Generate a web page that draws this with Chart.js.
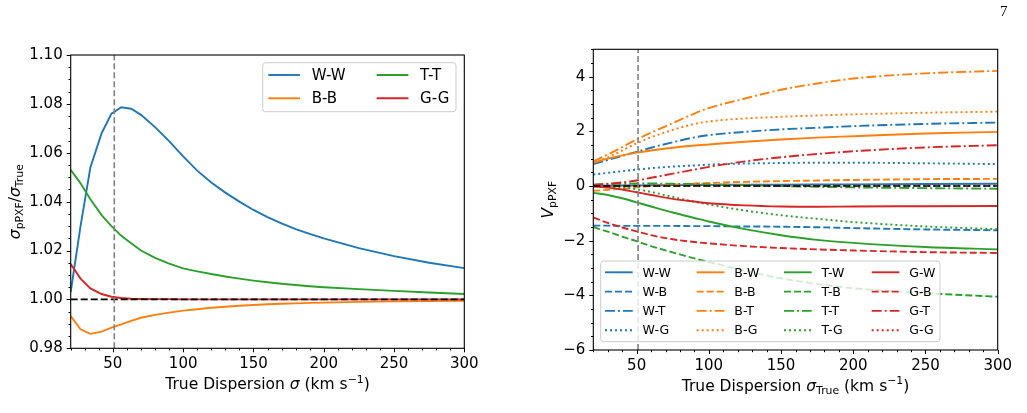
<!DOCTYPE html>
<html>
<head>
<meta charset="utf-8">
<script src="https://cdn.jsdelivr.net/npm/chart.js@4.4.0/dist/chart.umd.min.js"></script>
<style>
  body { margin: 0; background: #fff; width: 1027px; height: 413px; overflow: hidden; position: relative; }
  #left { position: absolute; left: 0; top: 0; }
  #right { position: absolute; left: 513px; top: 0; }
  #page { position: absolute; left: 1000px; top: 3px; font: 15px "Liberation Serif", serif; color: #000; }
</style>
</head>
<body>
<canvas id="left" width="500" height="413"></canvas>
<canvas id="right" width="514" height="413"></canvas>
<div id="page">7</div>
<script>
// ---- left panel: sigma_pPXF / sigma_True ----
const sigmaLeft = [20, 27, 34, 42, 49, 56, 63, 70, 80, 90, 100, 110, 120, 130, 140, 150, 160, 170, 180, 190, 200, 225, 250, 275, 300];
const ratioWW = [1.003, 1.030, 1.054, 1.068, 1.076, 1.0786, 1.078, 1.0755, 1.0705, 1.0648, 1.0585, 1.0527, 1.0478, 1.0437, 1.040, 1.0366, 1.0337, 1.0311, 1.0288, 1.0268, 1.025, 1.021, 1.0177, 1.015, 1.0128];
const ratioBB = [0.9932, 0.9878, 0.9859, 0.9868, 0.9885, 0.9898, 0.9912, 0.9925, 0.9937, 0.9946, 0.9954, 0.996, 0.9966, 0.997, 0.9974, 0.9977, 0.998, 0.9982, 0.9984, 0.9986, 0.9987, 0.999, 0.9992, 0.9993, 0.9994];
const ratioTT = [1.053, 1.0475, 1.041, 1.0345, 1.030, 1.026, 1.023, 1.020, 1.017, 1.0146, 1.0127, 1.0115, 1.0104, 1.0094, 1.0085, 1.0077, 1.007, 1.0064, 1.0059, 1.0054, 1.005, 1.0042, 1.0035, 1.0028, 1.0022];
const ratioGG = [1.0145, 1.0085, 1.0045, 1.0022, 1.0011, 1.0006, 1.0003, 1.0002, 1.0001, 1.0001, 1.0, 1.0, 1.0, 1.0, 1.0, 1.0, 1.0, 1.0, 1.0, 1.0, 1.0, 1.0, 1.0, 1.0, 1.0];

// ---- right panel: V_pPXF ----
const sigmaRight = [20, 30, 40, 50, 60, 75, 90, 100, 125, 150, 175, 200, 250, 300];
const vWW = [0.0, 0.01, 0.015, 0.02, 0.025, 0.03, 0.035, 0.04, 0.045, 0.05, 0.055, 0.06, 0.07, 0.08];
const vWB = [-1.45, -1.45, -1.46, -1.46, -1.46, -1.46, -1.47, -1.47, -1.48, -1.49, -1.51, -1.54, -1.59, -1.62];
const vWT = [0.8, 0.95, 1.1, 1.25, 1.4, 1.6, 1.78, 1.86, 1.98, 2.07, 2.13, 2.19, 2.27, 2.32];
const vWG = [0.42, 0.48, 0.54, 0.6, 0.65, 0.71, 0.75, 0.78, 0.82, 0.84, 0.85, 0.85, 0.83, 0.8];
const vBW = [0.85, 1.0, 1.12, 1.22, 1.3, 1.4, 1.48, 1.52, 1.62, 1.7, 1.77, 1.82, 1.92, 1.98];
const vBB = [-0.18, -0.14, -0.1, -0.05, 0.0, 0.05, 0.09, 0.11, 0.15, 0.18, 0.2, 0.22, 0.25, 0.26];
const vBT = [0.9, 1.15, 1.42, 1.7, 1.95, 2.3, 2.65, 2.85, 3.2, 3.52, 3.75, 3.93, 4.12, 4.21];
const vBG = [0.85, 1.05, 1.3, 1.56, 1.78, 2.05, 2.27, 2.36, 2.47, 2.53, 2.58, 2.62, 2.68, 2.72];
const vTW = [-0.25, -0.33, -0.45, -0.6, -0.75, -0.97, -1.17, -1.3, -1.58, -1.8, -1.97, -2.08, -2.23, -2.32];
const vTB = [-1.5, -1.67, -1.85, -2.02, -2.2, -2.43, -2.65, -2.78, -3.1, -3.38, -3.58, -3.74, -3.92, -4.05];
const vTT = [0.05, 0.07, 0.08, 0.09, 0.09, 0.08, 0.07, 0.06, 0.03, 0.0, -0.03, -0.05, -0.08, -0.1];
const vTG = [0.0, -0.02, -0.06, -0.12, -0.22, -0.4, -0.58, -0.68, -0.9, -1.07, -1.2, -1.32, -1.48, -1.58];
const vGW = [-0.02, -0.06, -0.13, -0.23, -0.33, -0.47, -0.57, -0.63, -0.71, -0.75, -0.76, -0.75, -0.74, -0.73];
const vGB = [-1.15, -1.35, -1.52, -1.66, -1.8, -1.95, -2.05, -2.1, -2.2, -2.27, -2.32, -2.36, -2.42, -2.45];
const vGT = [0.04, 0.08, 0.13, 0.2, 0.3, 0.45, 0.6, 0.7, 0.9, 1.05, 1.17, 1.27, 1.41, 1.49];
const vGG = [0.01, 0.01, 0.01, 0.01, 0.01, 0.01, 0.01, 0.01, 0.01, 0.01, 0.01, 0.01, 0.01, 0.01];

const sigmaMark = 51;      // vertical grey line
const ratioRef = 1.0;      // left reference level
const vRef = 0.0;          // right reference level

const FONT = '"DejaVu Sans", sans-serif';
const COL = { W: '#1f77b4', B: '#ff7f0e', T: '#2ca02c', G: '#d62728' };
const DASH = { W: [], B: [7, 3], T: [10, 3, 2, 3], G: [2, 3] };
const LW = 1.9;
const TICK_SIZE = 15;
const TITLE_SIZE = 15.5;

// mathtext-like label: segments with italic / sub / sup
function drawRich(ctx, segs, size, x, y) {
  const parts = segs.map(s => {
    const fs = (s.sub || s.sup) ? size * 0.7 : size;
    const font = (s.it ? 'italic ' : '') + fs + 'px ' + FONT;
    ctx.font = font;
    return { t: s.t, font, w: ctx.measureText(s.t).width, dy: s.sub ? size * 0.22 : s.sup ? -size * 0.42 : 0 };
  });
  const total = parts.reduce((a, p) => a + p.w, 0);
  let cx = x - total / 2;
  ctx.textAlign = 'left';
  ctx.textBaseline = 'alphabetic';
  ctx.fillStyle = '#000';
  parts.forEach(p => { ctx.font = p.font; ctx.fillText(p.t, cx, y + p.dy); cx += p.w; });
}

// spines, major/minor ticks, axis titles and inside legend
function makeDecor(cfg) {
  return {
    id: 'decor',
    afterDraw(chart) {
      const { ctx, chartArea: a } = chart;
      ctx.save();
      // legend
      const lg = cfg.legend;
      const fx = a.left + lg.x, fy = a.top + lg.y;
      ctx.beginPath();
      ctx.roundRect(fx, fy, lg.w, lg.h, 3);
      ctx.fillStyle = 'rgba(255,255,255,0.8)';
      ctx.fill();
      ctx.strokeStyle = '#cccccc';
      ctx.lineWidth = 1;
      ctx.stroke();
      const items = chart.data.datasets.filter(d => d.label);
      items.forEach((ds, i) => {
        const col = Math.floor(i / lg.rows), row = i % lg.rows;
        const x = fx + lg.colX[col], y = fy + lg.row0 + row * lg.rowH;
        ctx.beginPath();
        ctx.setLineDash(ds.borderDash || []);
        ctx.strokeStyle = ds.borderColor;
        ctx.lineWidth = ds.borderWidth;
        ctx.moveTo(x, y);
        ctx.lineTo(x + lg.handle, y);
        ctx.stroke();
        ctx.setLineDash([]);
        ctx.fillStyle = '#000';
        ctx.font = lg.size + 'px ' + FONT;
        ctx.textAlign = 'left';
        ctx.textBaseline = 'middle';
        ctx.fillText(ds.label, x + lg.textDx, y + 1);
      });
      // spines
      ctx.strokeStyle = '#000';
      ctx.lineWidth = 1.1;
      ctx.strokeRect(a.left, a.top, a.right - a.left, a.bottom - a.top);
      // ticks
      const xs = chart.scales.x, ys = chart.scales.y;
      ctx.lineWidth = 1;
      ctx.beginPath();
      xs.ticks.forEach(t => {
        const px = Math.round(xs.getPixelForValue(t.value)) + 0.5;
        const len = t.label !== '' ? 4 : 2.2;
        ctx.moveTo(px, a.bottom);
        ctx.lineTo(px, a.bottom + len);
      });
      ys.ticks.forEach(t => {
        const py = Math.round(ys.getPixelForValue(t.value)) + 0.5;
        const len = t.label !== '' ? 4 : 2.2;
        ctx.moveTo(a.left, py);
        ctx.lineTo(a.left - len, py);
      });
      ctx.stroke();
      // axis titles
      drawRich(ctx, cfg.xTitle, TITLE_SIZE, (a.left + a.right) / 2, a.bottom + 41);
      ctx.translate(cfg.yTitleX, (a.top + a.bottom) / 2);
      ctx.rotate(-Math.PI / 2);
      drawRich(ctx, cfg.yTitle, TITLE_SIZE, 0, 0);
      ctx.restore();
    }
  };
}

function series(xs, ys, label, color, dash, order, smooth) {
  const ds = {
    label, data: xs.map((x, i) => ({ x, y: ys[i] })),
    borderColor: color, borderWidth: LW, borderDash: dash,
    pointRadius: 0, fill: false, order, tension: 0
  };
  if (smooth) ds.cubicInterpolationMode = 'monotone';
  return ds;
}

function refLines(xMin, xMax, yMin, yMax, level) {
  return [
    { label: '', data: [{ x: xMin, y: level }, { x: xMax, y: level }], borderColor: '#000', borderWidth: 1.6,
      borderDash: [7, 3], pointRadius: 0, order: 0 },
    { label: '', data: [{ x: sigmaMark, y: yMin }, { x: sigmaMark, y: yMax }], borderColor: '#808080', borderWidth: 1.6,
      borderDash: [6, 3], pointRadius: 0, order: -1 }
  ];
}

function makeOptions(pad, yW, xH, yMin, yMax, yStep, yLabel) {
  const tickFont = { family: FONT, size: TICK_SIZE };
  return {
    responsive: false, animation: false, devicePixelRatio: 1,
    layout: { padding: pad },
    plugins: { legend: { display: false }, tooltip: { enabled: false } },
    scales: {
      x: {
        type: 'linear', min: 20, max: 300,
        grid: { drawOnChartArea: false, tickLength: 4, tickColor: 'transparent' },
        border: { display: false },
        ticks: { stepSize: 10, autoSkip: false, maxRotation: 0, color: '#000', font: tickFont, padding: 3,
                 callback: v => (v % 50 === 0 ? String(v) : '') },
        afterFit: s => { s.height = xH; }
      },
      y: {
        type: 'linear', min: yMin, max: yMax,
        grid: { drawOnChartArea: false, tickLength: 4, tickColor: 'transparent' },
        border: { display: false },
        ticks: { stepSize: yStep, autoSkip: false, color: '#000', font: tickFont, padding: 4, callback: yLabel },
        afterFit: s => { s.width = yW; }
      }
    }
  };
}

// left chart
const leftSets = [
  ['W-W', ratioWW, 'W'], ['B-B', ratioBB, 'B'], ['T-T', ratioTT, 'T'], ['G-G', ratioGG, 'G']
].map((s, i, arr) => series(sigmaLeft, s[1], s[0], COL[s[2]], [], arr.length - i + 1, false));

new Chart(document.getElementById('left'), {
  type: 'line',
  data: { datasets: leftSets.concat(refLines(20, 300, 0.98, 1.10, ratioRef)) },
  options: makeOptions({ left: 0, top: 55, right: 35.7, bottom: 0 }, 70.7, 64.7, 0.98, 1.10, 0.005, v => {
    const k = Math.round(v * 1000);
    return k % 20 === 0 ? (k / 1000).toFixed(2) : '';
  }),
  plugins: [makeDecor({
    legend: { x: 192, y: 7.7, w: 193.3, h: 49, rows: 2, colX: [5.6, 114], row0: 12.3, rowH: 23.3, handle: 31.7, textDx: 43.4, size: 15 },
    xTitle: [{ t: 'True Dispersion ' }, { t: 'σ', it: true }, { t: ' (km s' }, { t: '−1', sup: true }, { t: ')' }],
    yTitle: [{ t: 'σ', it: true }, { t: 'pPXF', sub: true }, { t: '/' }, { t: 'σ', it: true }, { t: 'True', sub: true }],
    yTitleX: 19.5
  })]
});

// right chart
const rightList = [
  ['W-W', vWW], ['W-B', vWB], ['W-T', vWT], ['W-G', vWG],
  ['B-W', vBW], ['B-B', vBB], ['B-T', vBT], ['B-G', vBG],
  ['T-W', vTW], ['T-B', vTB], ['T-T', vTT], ['T-G', vTG],
  ['G-W', vGW], ['G-B', vGB], ['G-T', vGT], ['G-G', vGG]
];
const rightSets = rightList.map((s, i) =>
  series(sigmaRight, s[1], s[0], COL[s[0][0]], DASH[s[0][2]], rightList.length - i + 1, true));

new Chart(document.getElementById('right'), {
  type: 'line',
  data: { datasets: rightSets.concat(refLines(20, 300, -6, 5, vRef)) },
  options: makeOptions({ left: 0, top: 49.3, right: 29.3, bottom: 0 }, 80.3, 63, -6, 5, 0.5, v => {
    if (Math.abs(v % 2) > 1e-9) return '';
    return v < 0 ? '−' + Math.abs(v) : String(v);
  }),
  plugins: [makeDecor({
    legend: { x: 7.4, y: 211.7, w: 339.3, h: 80.7, rows: 4, colX: [4.3, 96, 183.3, 271], row0: 11.3, rowH: 19.3, handle: 27.7, textDx: 37.6, size: 12.5 },
    xTitle: [{ t: 'True Dispersion ' }, { t: 'σ', it: true }, { t: 'True', sub: true }, { t: ' (km s' }, { t: '−1', sup: true }, { t: ')' }],
    yTitle: [{ t: 'V', it: true }, { t: 'pPXF', sub: true }],
    yTitleX: 40
  })]
});
</script>
</body>
</html>
